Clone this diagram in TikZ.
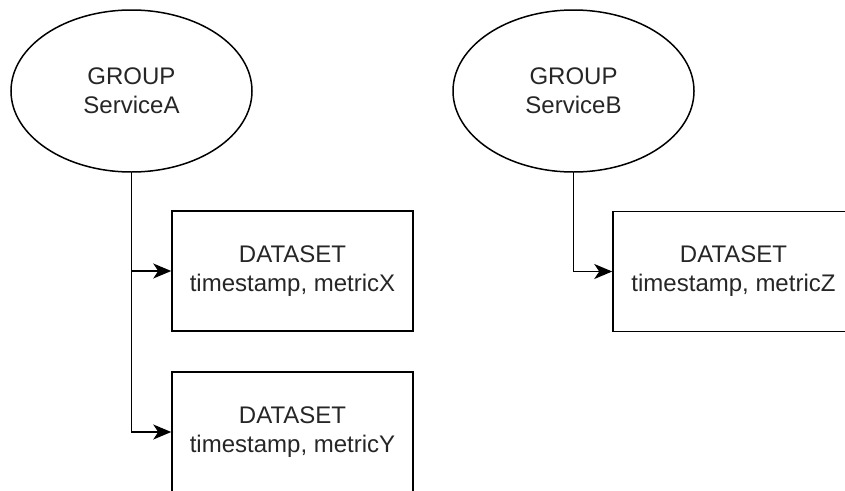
\documentclass[tikz,border=0pt]{standalone}
\usepackage{fontspec}
\setmainfont{Liberation Sans}
\usetikzlibrary{shapes.geometric,arrows.meta}
\begin{document}
\begin{tikzpicture}[x=1pt,y=-1pt,
  every node/.style={font=\fontsize{24}{29}\selectfont, align=center, inner sep=0pt, text=black!85},
  grp/.style={ellipse, draw, line width=1.5pt, minimum width=241pt, minimum height=162pt},
  dsbox/.style={rectangle, draw, line width=1.5pt, minimum width=241pt, minimum height=120pt},
  conn/.style={line width=1.5pt, -{Stealth[length=18pt,width=15pt,inset=5pt]}}]
\useasboundingbox (0,0) rectangle (845,490);
\clip (0,0) rectangle (845,490);
\node[grp] (A) at (131.5,91) {GROUP\\ServiceA};
\node[grp] (B) at (573.5,91) {GROUP\\ServiceB};
\node[dsbox] (X) at (292.5,271) {DATASET\\timestamp, metricX};
\node[dsbox] (Y) at (292.5,432) {DATASET\\timestamp, metricY};
\node[dsbox] (Z) at (733.5,271.5) {DATASET\\timestamp, metricZ};
\draw[conn] (A.south) |- (X.west);
\draw[conn] (A.south) |- (Y.west);
\draw[conn] (B.south) |- (Z.west);
\end{tikzpicture}
\end{document}
